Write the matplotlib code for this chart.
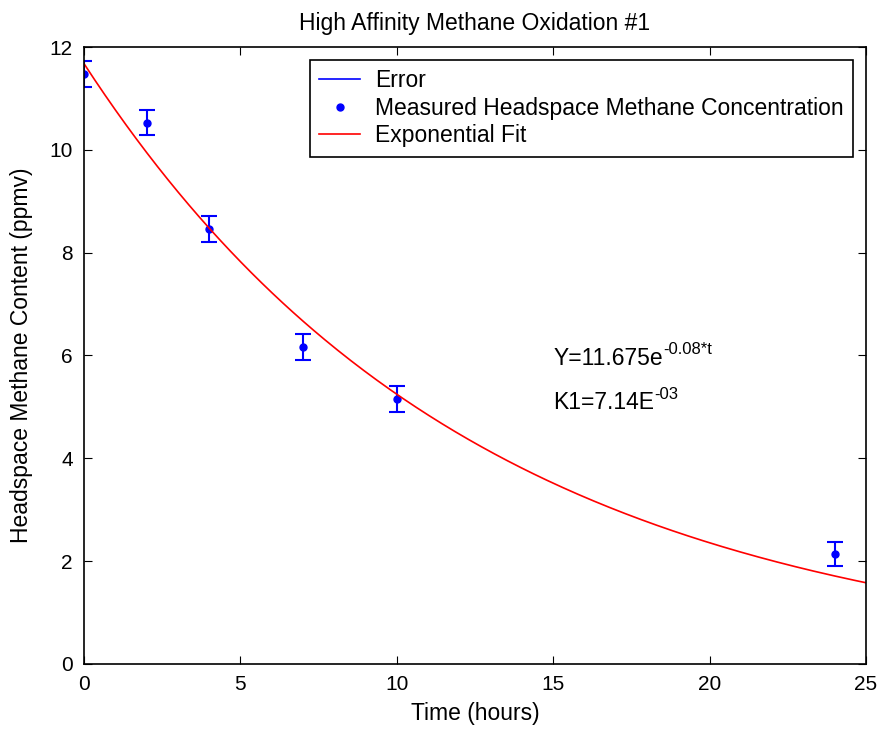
import numpy as np
import matplotlib
matplotlib.use('Agg')
import matplotlib.pyplot as plt
from matplotlib.lines import Line2D

plt.rcParams['font.family'] = ['Liberation Sans', 'DejaVu Sans']

t_meas = [0, 2, 4, 7, 10, 24] #Sampling times (hours)
ch4_meas = [11.48, 10.53, 8.46, 6.17, 5.16, 2.14] #Headspace methane (ppmv)
ch4_err = [0.25, 0.25, 0.26, 0.25, 0.25, 0.24] #Error bar half-widths

A = 11.675 #Fit amplitude
k = 0.08 #Fit rate (1/h)
t_fit = np.linspace(0, 25, 300)
ch4_fit = A*np.exp(-k*t_fit)

fs = 16.5 #MATLAB-ish text size

fig = plt.figure(figsize=(8.8, 7.31), dpi=100)
ax = fig.add_axes([0.0955, 0.0917, 0.8885, 0.844])

ax.errorbar(t_meas, ch4_meas, yerr=ch4_err, fmt='none', ecolor='b', elinewidth=1.5, capsize=6, capthick=1.5)
ax.plot(t_meas, ch4_meas, 'b.', markersize=10)
ax.plot(t_fit, ch4_fit, 'r', linewidth=1.2)

ax.set_xlim(0, 25)
ax.set_ylim(0, 12)
ax.set_xticks(np.arange(0, 26, 5))
ax.set_yticks(np.arange(0, 13, 2))
ax.tick_params(direction='in', top=True, right=True, labelsize=15, length=6, pad=8)
for s in ax.spines.values():
    s.set_linewidth(1.2)

ax.set_xlabel('Time (hours)', fontsize=fs, labelpad=6)
ax.set_ylabel('Headspace Methane Content (ppmv)', fontsize=fs, labelpad=12)
ax.set_title('High Affinity Methane Oxidation #1', fontsize=fs, pad=12)

#Fit equation, superscripts as separate small texts
eq1 = ax.text(15, 5.95, 'Y=11.675e', fontsize=fs, va='center')
ax.annotate('-0.08*t', xy=(1, 0.55), xycoords=eq1, fontsize=12, va='bottom')
eq2 = ax.text(15, 5.08, 'K1=7.14E', fontsize=fs, va='center')
ax.annotate('-03', xy=(1, 0.55), xycoords=eq2, fontsize=12, va='bottom')

handles = [Line2D([], [], color='b', lw=1.2),
           Line2D([], [], color='b', ls='none', marker='.', markersize=10),
           Line2D([], [], color='r', lw=1.2)]
labels = ['Error', 'Measured Headspace Methane Concentration', 'Exponential Fit']
leg = ax.legend(handles, labels, loc='upper right', fontsize=fs, fancybox=False, edgecolor='k',
                framealpha=1, borderaxespad=0.57, borderpad=0.4, handlelength=1.8,
                handletextpad=0.65, labelspacing=0.2)
leg.get_frame().set_linewidth(1.2)

fig.savefig('out.png', dpi=100)
